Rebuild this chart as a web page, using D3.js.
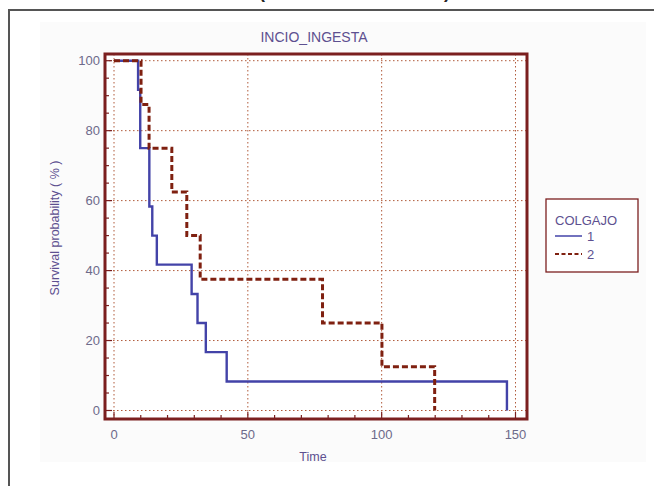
<!DOCTYPE html>
<html>
<head>
<meta charset="utf-8">
<script src="https://cdn.jsdelivr.net/npm/d3@7"></script>
<style>
  html, body { margin: 0; padding: 0; background: #fff; }
  svg { display: block; font-family: "Liberation Sans", Arial, sans-serif; }
</style>
</head>
<body>
<svg id="svg" width="654" height="486"></svg>
<script>
const svg = d3.select("#svg");

// Kaplan-Meier steps
const group1Times = [0, 9.0, 9.8, 13.2, 14.3, 16.0, 29.0, 31.2, 34.3, 42.1, 146.8];
const group1Surv = [100, 91.7, 75, 58.3, 50, 41.7, 33.3, 25, 16.7, 8.3, 0];
const group2Times = [0, 10.1, 13.1, 21.6, 27.2, 32.2, 77.9, 100.1, 119.8];
const group2Surv = [100, 87.5, 75, 62.5, 50, 37.5, 25, 12.5, 0];
const groupNames = ["1", "2"];
const xTicks = [0, 50, 100, 150];
const yTicks = [0, 20, 40, 60, 80, 100];

const frame = { left: 105, right: 527, top: 54, bottom: 419 };
const maroon = "#7b1f1f";
const textColor = "#5d5090";
const tickColor = "#6d6a8a";
const colors = { "1": "#4343a8", "2": "#7f2010" };

const x = d3.scaleLinear().domain([0, 150]).range([114, 515.5]);
const y = d3.scaleLinear().domain([0, 100]).range([410.5, 60.7]);

// outer grey frame (cut off at right and bottom)
svg.append("rect")
  .attr("x", 9).attr("y", 10)
  .attr("width", 700).attr("height", 600)
  .attr("fill", "none").attr("stroke", "#555").attr("stroke-width", 2);

// fragments of a caption cut off at the top edge
svg.append("text").attr("x", 262).attr("y", -2).attr("text-anchor", "middle")
  .style("font-size", "18px").style("font-weight", "bold").attr("fill", "#222").text("(");
svg.append("text").attr("x", 447).attr("y", -2).attr("text-anchor", "middle")
  .style("font-size", "18px").style("font-weight", "bold").attr("fill", "#222").text(")");

// faint background of the scanned chart
svg.append("rect")
  .attr("x", 40).attr("y", 22).attr("width", 606).attr("height", 440)
  .attr("fill", "#fbfbfb");

// title
svg.append("text")
  .attr("x", 314).attr("y", 42)
  .attr("text-anchor", "middle")
  .style("font-size", "14px")
  .attr("fill", textColor)
  .text("INCIO_INGESTA");

// plot background
svg.append("rect")
  .attr("x", frame.left).attr("y", frame.top)
  .attr("width", frame.right - frame.left).attr("height", frame.bottom - frame.top)
  .attr("fill", "#fff");

// grid
const grid = svg.append("g")
  .attr("stroke", "#b05a3a")
  .attr("stroke-width", 1)
  .attr("stroke-dasharray", "1.5,2.5");
grid.selectAll("line.v").data(xTicks).join("line")
  .attr("x1", (d) => x(d)).attr("x2", (d) => x(d))
  .attr("y1", frame.top).attr("y2", frame.bottom);
grid.selectAll("line.h").data(yTicks).join("line")
  .attr("x1", frame.left).attr("x2", frame.right)
  .attr("y1", (d) => y(d)).attr("y2", (d) => y(d));

// inward ticks
const ticks = svg.append("g").attr("stroke", maroon).attr("stroke-width", 1.2);
ticks.selectAll("line.xt").data(d3.range(0, 151, 10)).join("line")
  .attr("x1", (d) => x(d)).attr("x2", (d) => x(d))
  .attr("y1", frame.bottom).attr("y2", (d) => frame.bottom - (d % 50 === 0 ? 7 : 4));
ticks.selectAll("line.yt").data(d3.range(0, 101, 5)).join("line")
  .attr("x1", frame.left).attr("x2", (d) => frame.left + (d % 20 === 0 ? 7 : 4))
  .attr("y1", (d) => y(d)).attr("y2", (d) => y(d));

// curves
const line = d3.line()
  .x((d) => x(d[0]))
  .y((d) => y(d[1]))
  .curve(d3.curveStepAfter);

const series = [
  { name: "1", pts: d3.zip(group1Times, group1Surv), dash: null, width: 2.4 },
  { name: "2", pts: d3.zip(group2Times, group2Surv), dash: "6,3", width: 3 },
];

svg.append("g")
  .selectAll("path")
  .data(series)
  .join("path")
  .attr("fill", "none")
  .attr("stroke", (d) => colors[d.name])
  .attr("stroke-width", (d) => d.width)
  .attr("stroke-dasharray", (d) => d.dash)
  .attr("d", (d) => line(d.pts));

// frame
svg.append("rect")
  .attr("x", frame.left).attr("y", frame.top)
  .attr("width", frame.right - frame.left).attr("height", frame.bottom - frame.top)
  .attr("fill", "none").attr("stroke", maroon).attr("stroke-width", 3);

// tick labels
svg.append("g")
  .selectAll("text")
  .data(xTicks)
  .join("text")
  .attr("x", (d) => x(d)).attr("y", 439)
  .attr("text-anchor", "middle")
  .style("font-size", "13px")
  .attr("fill", tickColor)
  .text((d) => d);

svg.append("g")
  .selectAll("text")
  .data(yTicks)
  .join("text")
  .attr("x", 100).attr("y", (d) => y(d) + 4.5)
  .attr("text-anchor", "end")
  .style("font-size", "13px")
  .attr("fill", tickColor)
  .text((d) => d);

// axis titles
svg.append("text")
  .attr("x", 313).attr("y", 461)
  .attr("text-anchor", "middle")
  .style("font-size", "12.5px")
  .attr("fill", textColor)
  .text("Time");

svg.append("text")
  .attr("transform", "translate(59,228) rotate(-90)")
  .attr("text-anchor", "middle")
  .style("font-size", "12.5px")
  .attr("fill", textColor)
  .text("Survival probability ( % )");

// legend
const legend = svg.append("g");
legend.append("rect")
  .attr("x", 546).attr("y", 199).attr("width", 92).attr("height", 73)
  .attr("fill", "#fff").attr("stroke", maroon).attr("stroke-width", 1.3);
legend.append("text")
  .attr("x", 555).attr("y", 225)
  .style("font-size", "13px")
  .attr("fill", textColor)
  .text("COLGAJO");
legend.selectAll("line")
  .data(series)
  .join("line")
  .attr("x1", 555).attr("x2", 582)
  .attr("y1", (d, i) => 236 + i * 18).attr("y2", (d, i) => 236 + i * 18)
  .attr("stroke", (d) => colors[d.name])
  .attr("stroke-width", (d) => (d.dash ? 2 : 1.5))
  .attr("stroke-dasharray", (d) => (d.dash ? "4,2.5" : null));
legend.selectAll("text.item")
  .data(groupNames)
  .join("text")
  .attr("class", "item")
  .attr("x", 587).attr("y", (d, i) => 241 + i * 18)
  .style("font-size", "13px")
  .attr("fill", textColor)
  .text((d) => d);
</script>
</body>
</html>
